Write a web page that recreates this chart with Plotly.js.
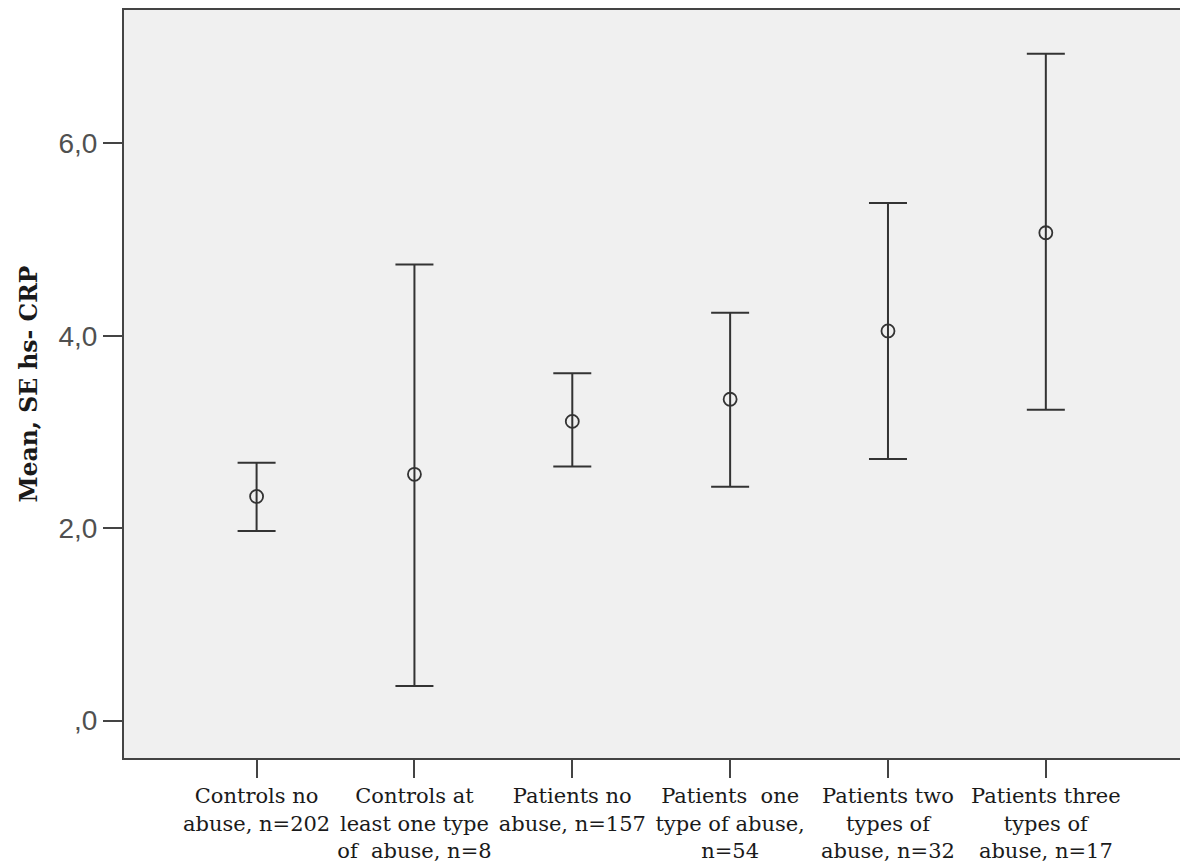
<!DOCTYPE html>
<html>
<head>
<meta charset="utf-8">
<script src="https://cdn.plot.ly/plotly-3.0.1.min.js"></script>
<style>html,body{margin:0;padding:0;background:#fff;}#chart{width:1181px;height:868px;}</style>
</head>
<body>
<div id="chart"></div>
<script>
var categories = [
  "Controls no<br>abuse, n=202",
  "Controls at<br>least one type<br>of  abuse, n=8",
  "Patients no<br>abuse, n=157",
  "Patients  one<br>type of abuse,<br>n=54",
  "Patients two<br>types of<br>abuse, n=32",
  "Patients three<br>types of<br>abuse, n=17"
];
var means = [2.33, 2.56, 3.11, 3.34, 4.05, 5.07];
var upper = [2.68, 4.74, 3.61, 4.24, 5.38, 6.93];
var lower = [1.97, 0.36, 2.64, 2.43, 2.72, 3.23];
var yTickVals = [0, 2, 4, 6];
var yTickText = [",0", "2,0", "4,0", "6,0"];

var errPlus = means.map(function(m, i){ return upper[i] - m; });
var errMinus = means.map(function(m, i){ return m - lower[i]; });

var trace = {
  type: "scatter",
  mode: "markers",
  x: categories,
  y: means,
  marker: {symbol: "circle-open", size: 13, color: "#333333", line: {width: 1.8, color: "#333333"}},
  error_y: {
    type: "data", symmetric: false,
    array: errPlus, arrayminus: errMinus,
    color: "#333333", thickness: 2, width: 19
  },
  hoverinfo: "y"
};

var layout = {
  width: 1181, height: 868,
  margin: {l: 124, r: 1, t: 10, b: 110},
  paper_bgcolor: "#ffffff",
  plot_bgcolor: "#f0f0f0",
  showlegend: false,
  xaxis: {
    type: "category",
    range: [-0.84, 5.85],
    showline: true, linecolor: "#444444", linewidth: 2, mirror: true,
    ticks: "outside", ticklen: 18, tickwidth: 2, tickcolor: "#444444",
    showgrid: false, zeroline: false,
    tickfont: {family: "DejaVu Serif", size: 21, color: "#1a1a1a"},
    automargin: false
  },
  yaxis: {
    range: [-0.388, 7.385],
    tickvals: yTickVals, ticktext: yTickText,
    showline: true, linecolor: "#444444", linewidth: 2,
    ticks: "outside", ticklen: 19, tickwidth: 2, tickcolor: "#444444",
    showgrid: false, zeroline: false,
    tickfont: {family: "Liberation Sans", size: 28, color: "#505050"},
    title: {text: "<b>Mean, SE hs- CRP</b>", font: {family: "DejaVu Serif", size: 23.5, color: "#1a1a1a"}, standoff: 14},
    automargin: false
  }
};

Plotly.newPlot("chart", [trace], layout, {displayModeBar: false, staticPlot: true});
</script>
</body>
</html>
